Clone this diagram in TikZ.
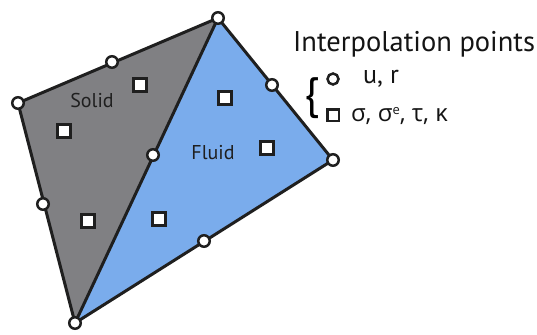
\documentclass[tikz,border=0pt]{standalone}
\usepackage{fontspec}
\setmainfont{PT Sans}
\newfontfamily\greekfont{Open Sans}
\begin{document}
\begin{tikzpicture}[x=1pt,y=-1pt,
  edge/.style={line width=3pt, line join=round, draw=black!88},
  pt/.style={circle, draw=black!88, line width=2.5pt, fill=white, minimum size=11.5pt, inner sep=0pt},
  sq/.style={rectangle, draw=black!88, line width=3pt, fill=white, minimum size=13pt, inner sep=0pt},
  lbl/.style={font=\fontsize{20}{22}\selectfont, text=black!88, inner sep=0pt}]
\useasboundingbox (0,0) rectangle (537,334);
\definecolor{solidgray}{RGB}{128,128,131}
\definecolor{fluidblue}{RGB}{122,172,236}
\coordinate (T) at (218,18);
\coordinate (L) at (18,103);
\coordinate (B) at (75,323);
\coordinate (R) at (333,160);
\fill[solidgray] (T) -- (L) -- (B) -- cycle;
\fill[fluidblue] (T) -- (R) -- (B) -- cycle;
\draw[edge] (T) -- (L) -- (B) -- (R) -- cycle;
\draw[edge] (T) -- (B);
\foreach \n/\p in {t/{(218,18)}, l/{(18,103)}, b/{(75,323)}, r/{(333,160)}, m1/{(112,62)}, m2/{(43,204)}, m3/{(153,155)}, m4/{(272,85)}, m5/{(204,241)}}
  \node[pt] (\n) at \p {};
\foreach \n/\p in {s1/{(140,85)}, s2/{(64,131)}, s3/{(88,221)}, s4/{(225,98)}, s5/{(267,148)}, s6/{(159,219)}}
  \node[sq] (\n) at \p {};
\node[lbl] (solid) at (92,100) {Solid};
\node[lbl] (fluid) at (213,153) {Fluid};
\node[font=\fontsize{28.5}{30}\selectfont, anchor=west, inner sep=0pt, text=black!92] (title) at (293,44) {Interpolation points};
\node[pt, minimum size=11pt, line width=2.5pt] (lc) at (333,79) {};
\node[sq, minimum size=11.5pt, line width=2.5pt] (ls) at (333,115) {};
\node[font=\fontsize{26}{28}\selectfont, anchor=west, inner sep=0pt, text=black!92] (lu) at (363,79) {u, r};
\node[font=\greekfont\fontsize{24}{26}\selectfont, anchor=west, inner sep=0pt, text=black!92] (lsig) at (351,116) {σ, σ{\fontsize{13}{14}\selectfont\raisebox{7pt}{e}}, τ, κ};
\node[font=\fontsize{44}{46}\selectfont, inner sep=0pt] (brace) at (312,98) {\{};
\end{tikzpicture}
\end{document}
